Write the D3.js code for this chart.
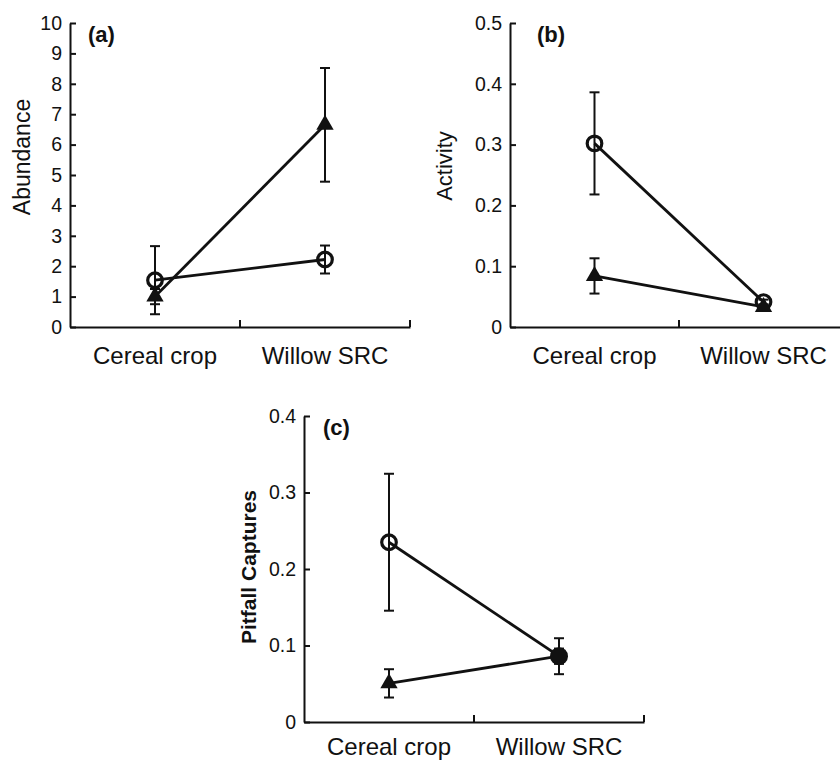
<!DOCTYPE html>
<html>
<head>
<meta charset="utf-8">
<script src="https://cdn.jsdelivr.net/npm/d3@7"></script>
<style>
  body { margin: 0; background: #fff; }
  svg text { font-family: "Liberation Sans", Arial, sans-serif; fill: #111; }
</style>
</head>
<body>
<svg id="chart" width="840" height="761"></svg>
<script>
const categories = ["Cereal crop", "Willow SRC"];

// (a) abundance
const abundanceTicks = [0, 1, 2, 3, 4, 5, 6, 7, 8, 9, 10];
const abundanceOpen = [1.54, 2.22];
const abundanceOpenErr = [1.12, 0.46];
const abundanceTri = [1.0, 6.65];
const abundanceTriErr = [0.25, 1.87];

// (b) activity
const activityTicks = [0, 0.1, 0.2, 0.3, 0.4, 0.5];
const activityOpen = [0.302, 0.041];
const activityOpenErr = [0.084, 0.004];
const activityTri = [0.084, 0.033];
const activityTriErr = [0.029, 0.004];

// (c) pitfall captures
const capturesTicks = [0, 0.1, 0.2, 0.3, 0.4];
const capturesOpen = [0.235, 0.086];
const capturesOpenErr = [0.0895, 0.0235];
const capturesTri = [0.0505, 0.086];
const capturesTriErr = [0.0185, 0.01];
const capturesOpenMark = ["open", "filled"];
const capturesTriMark = ["triangle", "none"];

const svg = d3.select("#chart");

function drawPanel(p) {
  const w = p.right - p.left;
  const h = p.bottom - p.top;
  const g = svg.append("g").attr("transform", `translate(${p.left},${p.top})`);

  const x = d3.scaleBand().domain(categories).range([0, w]);
  const y = d3.scaleLinear().domain([0, d3.max(p.ticks)]).range([h, 0]);
  const cx = d => x(d) + x.bandwidth() / 2;

  // y axis, ticks pointing inward
  const yAxis = g.append("g")
    .call(d3.axisLeft(y).tickValues(p.ticks).tickSizeInner(-6).tickSizeOuter(0)
      .tickPadding(8).tickFormat(d => d === 0 ? "0" : d3.format(p.fmt)(d)));
  yAxis.selectAll("text").style("font-size", "19.5px").attr("fill", "#111");

  // x axis: labels under category centres
  const xAxis = g.append("g")
    .attr("transform", `translate(0,${h})`)
    .call(d3.axisBottom(x).tickSize(0).tickPadding(p.xPad));
  xAxis.selectAll("text").style("font-size", "24px").attr("fill", "#111");

  // boundary ticks pointing up
  g.append("g").selectAll("line")
    .data(categories)
    .join("line")
    .attr("x1", d => x(d) + x.bandwidth()).attr("x2", d => x(d) + x.bandwidth())
    .attr("y1", h).attr("y2", h - 7)
    .attr("stroke", "#111").attr("stroke-width", 2);

  g.selectAll(".domain").attr("stroke", "#111").attr("stroke-width", 2);
  g.selectAll(".tick line").attr("stroke", "#111").attr("stroke-width", 2);

  // y title
  g.append("text")
    .attr("transform", `translate(${p.titleX},${p.titleY}) rotate(-90)`)
    .attr("text-anchor", "middle")
    .attr("dominant-baseline", "central")
    .style("font-size", p.titleSize + "px")
    .style("font-weight", p.titleBold ? "bold" : "normal")
    .text(p.title);

  // panel letter
  g.append("text")
    .attr("x", p.letterX).attr("y", 19)
    .style("font-size", "22px").style("font-weight", "bold")
    .text(p.letter);

  const series = [
    { vals: p.open, err: p.openErr, marks: p.openMark || ["open", "open"] },
    { vals: p.tri, err: p.triErr, marks: p.triMark || ["triangle", "triangle"] }
  ];

  // error bars
  series.forEach(s => {
    const eb = g.append("g").attr("stroke", "#111").attr("stroke-width", 2);
    categories.forEach((c, i) => {
      const hi = y(s.vals[i] + s.err[i]);
      const lo = y(s.vals[i] - s.err[i]);
      eb.append("line").attr("x1", cx(c)).attr("x2", cx(c)).attr("y1", hi).attr("y2", lo);
      eb.append("line").attr("x1", cx(c) - 5).attr("x2", cx(c) + 5).attr("y1", hi).attr("y2", hi);
      eb.append("line").attr("x1", cx(c) - 5).attr("x2", cx(c) + 5).attr("y1", lo).attr("y2", lo);
    });
  });

  // connecting lines
  const line = d3.line().x((d, i) => cx(categories[i])).y(d => y(d));
  series.forEach(s => {
    g.append("path").datum(s.vals)
      .attr("d", line)
      .attr("fill", "none").attr("stroke", "#111").attr("stroke-width", 2.8);
  });

  // markers
  const tri = d3.symbol().type(d3.symbolTriangle).size(130);
  series.forEach(s => {
    categories.forEach((c, i) => {
      const m = s.marks[i];
      const px = cx(c), py = y(s.vals[i]);
      if (m === "triangle") {
        g.append("path").attr("d", tri()).attr("transform", `translate(${px},${py})`)
          .attr("fill", "#111");
      } else if (m === "open") {
        g.append("circle").attr("cx", px).attr("cy", py).attr("r", 7.3)
          .attr("fill", "none").attr("stroke", "#111").attr("stroke-width", 3.2);
      } else if (m === "filled") {
        g.append("circle").attr("cx", px).attr("cy", py).attr("r", 9)
          .attr("fill", "#111");
      }
    });
  });
}

drawPanel({
  left: 70, right: 410, top: 23, bottom: 327, xPad: 20,
  ticks: abundanceTicks, fmt: "d",
  open: abundanceOpen, openErr: abundanceOpenErr,
  tri: abundanceTri, triErr: abundanceTriErr,
  title: "Abundance", titleX: -48, titleY: 134, titleSize: 23, titleBold: false,
  letter: "(a)", letterX: 18
});

drawPanel({
  left: 510, right: 848, top: 23, bottom: 327, xPad: 20,
  ticks: activityTicks, fmt: ".1f",
  open: activityOpen, openErr: activityOpenErr,
  tri: activityTri, triErr: activityTriErr,
  title: "Activity", titleX: -66, titleY: 143, titleSize: 22, titleBold: false,
  letter: "(b)", letterX: 27
});

drawPanel({
  left: 304, right: 644, top: 416, bottom: 722, xPad: 16,
  ticks: capturesTicks, fmt: ".1f",
  open: capturesOpen, openErr: capturesOpenErr, openMark: capturesOpenMark,
  tri: capturesTri, triErr: capturesTriErr, triMark: capturesTriMark,
  title: "Pitfall Captures", titleX: -56, titleY: 151, titleSize: 21, titleBold: true,
  letter: "(c)", letterX: 19
});
</script>
</body>
</html>
